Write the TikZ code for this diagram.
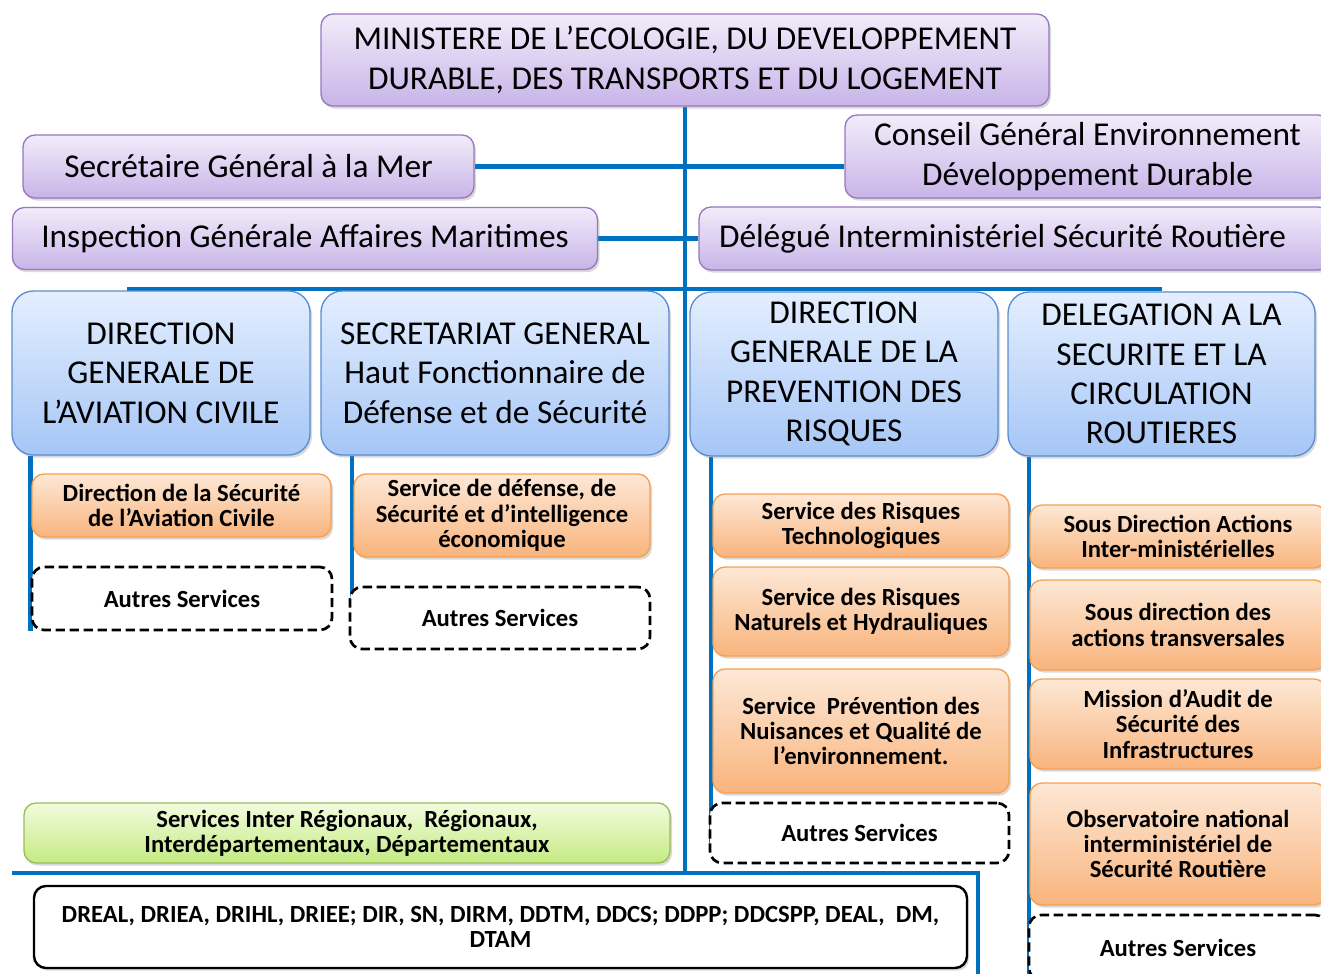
\documentclass[tikz,border=0pt]{standalone}
\usepackage{fontspec}
\setmainfont{Carlito}
\usetikzlibrary{shadows,backgrounds}
\definecolor{trunkblue}{RGB}{0,112,192}
\definecolor{purpletop}{RGB}{242,236,250}
\definecolor{purplebot}{RGB}{200,180,232}
\definecolor{purpleline}{RGB}{150,120,190}
\definecolor{bluetop}{RGB}{228,239,255}
\definecolor{bluebot}{RGB}{166,198,246}
\definecolor{blueline}{RGB}{90,140,210}
\definecolor{orangetop}{RGB}{253,232,214}
\definecolor{orangebot}{RGB}{249,180,125}
\definecolor{orangeline}{RGB}{246,160,80}
\definecolor{greentop}{RGB}{242,252,222}
\definecolor{greenbot}{RGB}{196,234,130}
\definecolor{greenline}{RGB}{155,187,89}
\newcommand{\bigtext}{\fontsize{25}{29.5}\selectfont}
\newcommand{\smalltext}{\fontsize{18.5}{19}\selectfont\bfseries}
\tikzset{
    box/.style={rounded corners=9pt,inner sep=0pt,align=center,
        drop shadow={shadow xshift=1.5pt,shadow yshift=-2pt,opacity=0.3}},
    purplebox/.style={box,draw=purpleline,line width=1pt,top color=purpletop,bottom color=purplebot,font=\bigtext},
    dirbox/.style={box,rounded corners=16pt,draw=blueline,line width=1pt,top color=bluetop,bottom color=bluebot,font=\bigtext},
    servbox/.style={box,draw=orangeline,line width=1pt,top color=orangetop,bottom color=orangebot,font=\smalltext},
    otherbox/.style={rounded corners=9pt,inner sep=0pt,align=center,draw=black,line width=2pt,
        dash pattern=on 7pt off 3.5pt,fill=white,font=\smalltext},
    regbox/.style={box,draw=greenline,line width=1pt,top color=greentop,bottom color=greenbot,font=\smalltext},
    listbox/.style={rounded corners=9pt,inner sep=0pt,align=center,draw=black,line width=1.8pt,fill=white,
        drop shadow={shadow xshift=1.5pt,shadow yshift=-2pt,opacity=0.3},font=\smalltext},
    trunk/.style={draw=trunkblue,line width=3.3pt}
}

\begin{document}
\begin{tikzpicture}[x=0.75pt,y=-0.75pt]
    \useasboundingbox (0,0) rectangle (1321,974);

    \node[purplebox,minimum width=728*0.75pt,minimum height=92*0.75pt]
        (min) at (685,60) {MINISTERE DE L’ECOLOGIE, DU DEVELOPPEMENT\\DURABLE, DES TRANSPORTS ET DU LOGEMENT};
    \node[purplebox,minimum width=451*0.75pt,minimum height=63*0.75pt]
        (sgmer) at (248.5,166.5) {Secrétaire Général à la Mer};
    \node[purplebox,minimum width=585*0.75pt,minimum height=62*0.75pt]
        (igam) at (305,238.5) {Inspection Générale Affaires Maritimes};
    \node[purplebox,minimum width=485*0.75pt,minimum height=83*0.75pt]
        (cgedd) at (1087.5,156.5) {Conseil Général Environnement\\Développement Durable};
    \node[purplebox,align=flush left,inner xsep=15pt,text width=591*0.75pt,minimum height=63*0.75pt]
        (disr) at (1014.5,238.5) {Délégué Interministériel Sécurité Routière};

    \node[dirbox,minimum width=298*0.75pt,minimum height=164*0.75pt]
        (dgac) at (161,373) {DIRECTION\\GENERALE DE\\L’AVIATION CIVILE};
    \node[dirbox,minimum width=348*0.75pt,minimum height=164*0.75pt]
        (sg) at (495,373) {SECRETARIAT GENERAL\\Haut Fonctionnaire de\\Défense et de Sécurité};
    \node[dirbox,minimum width=308*0.75pt,minimum height=164*0.75pt]
        (dgpr) at (844,374) {DIRECTION\\GENERALE DE LA\\PREVENTION DES\\RISQUES};
    \node[dirbox,minimum width=307*0.75pt,minimum height=164*0.75pt]
        (dscr) at (1161.5,374) {DELEGATION A LA\\SECURITE ET LA\\CIRCULATION\\ROUTIERES};

    \node[servbox,minimum width=299*0.75pt,minimum height=63*0.75pt]
        (dsac) at (181.5,505.5) {Direction de la Sécurité\\de l’Aviation Civile};
    \node[otherbox,minimum width=300*0.75pt,minimum height=63*0.75pt]
        (aut1) at (182,598.5) {Autres Services};
    \node[servbox,minimum width=296*0.75pt,minimum height=83*0.75pt]
        (sdsie) at (502,515.5) {Service de défense, de\\Sécurité et d’intelligence\\économique};
    \node[otherbox,minimum width=300*0.75pt,minimum height=62*0.75pt]
        (aut2) at (500,618) {Autres Services};

    \node[servbox,minimum width=296*0.75pt,minimum height=63*0.75pt]
        (srt) at (861,525.5) {Service des Risques\\Technologiques};
    \node[servbox,minimum width=296*0.75pt,minimum height=89*0.75pt]
        (srnh) at (861,611.5) {Service des Risques\\Naturels et Hydrauliques};
    \node[servbox,minimum width=296*0.75pt,minimum height=124*0.75pt]
        (spnqe) at (861,731) {Service\ \ Prévention des\\Nuisances et Qualité de\\l’environnement.};
    \node[otherbox,minimum width=299*0.75pt,minimum height=60*0.75pt]
        (aut3) at (859.5,833) {Autres Services};

    \node[servbox,minimum width=296*0.75pt,minimum height=63*0.75pt]
        (sdai) at (1178,536.5) {Sous Direction Actions\\Inter-ministérielles};
    \node[servbox,minimum width=296*0.75pt,minimum height=90*0.75pt]
        (sdat) at (1178,625) {Sous direction des\\actions transversales};
    \node[servbox,minimum width=296*0.75pt,minimum height=90*0.75pt]
        (masi) at (1178,724) {Mission d’Audit de\\Sécurité des\\Infrastructures};
    \node[servbox,minimum width=296*0.75pt,minimum height=122*0.75pt]
        (onisr) at (1178,844) {Observatoire national\\interministériel de\\Sécurité Routière};
    \node[otherbox,minimum width=298*0.75pt,minimum height=65*0.75pt]
        (aut4) at (1178,947.5) {Autres Services};

    \node[regbox,minimum width=646*0.75pt,minimum height=60*0.75pt]
        (reg) at (347,833) {Services Inter Régionaux,\ \ Régionaux,\\Interdépartementaux, Départementaux};
    \node[listbox,minimum width=933*0.75pt,minimum height=82*0.75pt]
        (dreal) at (500.5,927) {DREAL, DRIEA, DRIHL, DRIEE; DIR, SN, DIRM, DDTM, DDCS; DDPP; DDCSPP, DEAL,\ \ DM,\\DTAM};

    \coordinate (barw) at (127,289);
    \coordinate (bare) at (1162,289);
    \coordinate (botw) at (12,873);
    \coordinate (bote) at (978,873);
    \coordinate (botend) at (978,974);
    \coordinate (sgend) at (352,638);
    \coordinate (dgprend) at (711,843);
    \coordinate (dscrend) at (1029,974);

    \begin{scope}[on background layer]
        \draw[trunk] (min.south) -- (min.south |- botw);
        \draw[trunk] (sgmer.east) -- (cgedd.west |- sgmer.east);
        \draw[trunk] (igam.east) -- (disr.west);
        \draw[trunk] (barw) -- (bare);
        \draw[trunk] (botw) -- (bote) -- (botend);
        \draw[trunk] (dgac.south -| aut1.west) -- (aut1.south west);
        \draw[trunk] (sg.south -| sgend) -- (sgend);
        \draw[trunk] (dgpr.south -| dgprend) -- (dgprend);
        \draw[trunk] (dscr.south -| dscrend) -- (dscrend);
    \end{scope}
\end{tikzpicture}
\end{document}
